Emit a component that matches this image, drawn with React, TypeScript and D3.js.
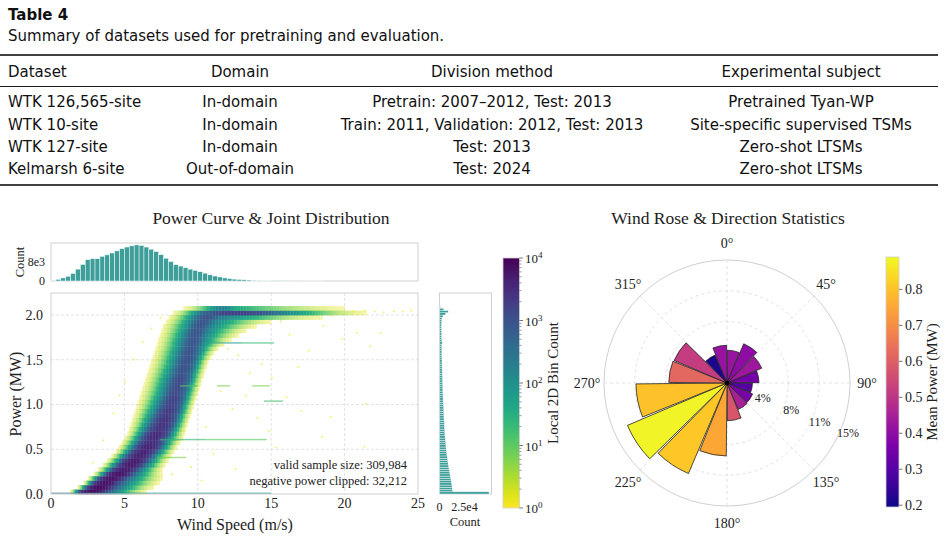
import React from 'react'
import * as d3 from 'd3'

// ---- table ----
const tableHeader = ['Dataset', 'Domain', 'Division method', 'Experimental subject']
const tableRows = [
  ['WTK 126,565-site', 'In-domain', 'Pretrain: 2007–2012, Test: 2013', 'Pretrained Tyan-WP'],
  ['WTK 10-site', 'In-domain', 'Train: 2011, Validation: 2012, Test: 2013', 'Site-specific supervised TSMs'],
  ['WTK 127-site', 'In-domain', 'Test: 2013', 'Zero-shot LTSMs'],
  ['Kelmarsh 6-site', 'Out-of-domain', 'Test: 2024', 'Zero-shot LTSMs'],
]

// ---- wind speed histogram (bins of 1/3 m/s from 0) ----
const speedCounts = [300, 700, 1300, 2000, 3200, 5000, 7000, 9000, 9400, 9400, 10400, 11000, 11800, 12700,
  13600, 14300, 14800, 15200, 15000, 14300, 13400, 12400, 11100, 9600, 8200, 6900, 6300, 5600, 5000, 4500,
  3900, 3300, 2600, 2100, 1700, 1300, 1000, 800, 650, 520, 420, 320, 240, 180, 130, 90, 60, 40, 30, 20, 15,
  10, 8, 6, 4, 3]

// ---- power histogram (bins of 0.025 MW from 0) ----
const powerCounts = [49500,
  13000, 12800, 12500, 12200, 11800, 11400, 11000, 10600, 10200, 9800, 9400, 9000, 8600, 8300, 8000, 7700, 7400, 7100, 6800, 6600,
  6400, 6200, 6000, 5800, 5600, 5450, 5300, 5150, 5000, 4900, 4800, 4700, 4550, 4450, 4350, 4250, 4150, 4050, 3950, 3850,
  3750, 3650, 3600, 3500, 3400, 3350, 3250, 3200, 3100, 3050, 3000, 2900, 2850, 2800, 2700, 2650, 2600, 2550, 2500, 2450,
  2400, 2350, 2300, 2300, 2250, 2200, 2700, 2200, 2150, 2100, 2100, 2050, 2000, 2000, 2000, 2050, 2200, 2500, 3500, 6000, 8700, 4200, 900]

// ---- power curve band, one row per 0.05 MW ----
const bandPower = [0.025, 0.075, 0.125, 0.175, 0.225, 0.275, 0.325, 0.375, 0.425, 0.475, 0.525, 0.575, 0.625, 0.675,
  0.725, 0.775, 0.825, 0.875, 0.925, 0.975, 1.025, 1.075, 1.125, 1.175, 1.225, 1.275, 1.325, 1.375, 1.425, 1.475,
  1.525, 1.575, 1.625, 1.675, 1.725, 1.775, 1.825, 1.875, 1.925, 1.975, 2.025, 2.075]
const bandOuterLeft = [1.3, 1.8, 2.2, 2.5, 2.9, 3.2, 3.5, 3.8, 4.1, 4.4, 4.6, 4.8, 5.0, 5.2,
  5.3, 5.4, 5.5, 5.6, 5.7, 5.8, 5.9, 6.0, 6.1, 6.2, 6.3, 6.4, 6.5, 6.6, 6.7, 6.8,
  6.9, 7.0, 7.1, 7.2, 7.3, 7.4, 7.5, 7.6, 7.8, 8.0, 8.3, 9.0]
const bandCoreLeft = [2.0, 2.5, 2.9, 3.3, 3.8, 4.2, 4.6, 4.9, 5.2, 5.5, 5.8, 6.0, 6.2, 6.4,
  6.6, 6.8, 6.95, 7.1, 7.25, 7.4, 7.55, 7.7, 7.8, 7.9, 8.0, 8.1, 8.2, 8.3, 8.45, 8.55,
  8.65, 8.75, 8.85, 8.95, 9.05, 9.15, 9.3, 9.45, 9.6, 9.8, 10.3, 10.8]
const bandCoreRight = [3.7, 4.1, 4.5, 4.9, 5.4, 5.8, 6.2, 6.5, 6.8, 7.1, 7.4, 7.6, 7.8, 8.0,
  8.2, 8.35, 8.5, 8.6, 8.75, 8.85, 8.95, 9.05, 9.15, 9.25, 9.35, 9.45, 9.55, 9.65, 9.75, 9.85,
  9.95, 10.05, 10.15, 10.25, 10.35, 10.45, 10.6, 10.8, 11.0, 11.4, 15.0, 12.5]
const bandOuterRight = [6.5, 7.0, 7.4, 7.6, 7.6, 7.6, 7.8, 8.0, 8.2, 8.4, 8.6, 8.8, 9.0, 9.1,
  9.2, 9.3, 9.4, 9.5, 9.6, 9.7, 9.8, 9.9, 10.0, 10.1, 10.2, 10.3, 10.4, 10.5, 10.6, 10.7,
  10.9, 11.1, 11.4, 11.8, 12.3, 12.8, 13.3, 14.0, 15.0, 18.5, 21.5, 20.0]
const bandPeak = [3.9, 3.9, 3.8, 3.8, 3.8, 3.7, 3.7, 3.7, 3.6, 3.6, 3.6, 3.5, 3.5, 3.5,
  3.4, 3.4, 3.4, 3.3, 3.3, 3.2, 3.2, 3.2, 3.1, 3.1, 3.1, 3.1, 3.0, 3.0, 3.0, 3.0,
  3.0, 3.0, 2.95, 2.95, 2.95, 2.95, 2.95, 2.95, 2.95, 3.0, 3.25, 2.2]

// ---- curtailment streaks ----
const streakPower = [1.68, 1.68, 1.2, 1.2, 1.2, 1.03, 0.6, 0.6, 0.4, 0.0, 0.0]
const streakStart = [10.4, 13.0, 8.8, 11.3, 13.7, 14.5, 7.4, 10.5, 7.2, 0.0, 2.5]
const streakEnd = [13.0, 15.2, 10.0, 12.2, 14.9, 15.8, 10.5, 14.7, 9.2, 2.5, 15.0]
const streakLevel = [1.8, 1.3, 1.0, 0.8, 0.8, 1.2, 1.3, 1.0, 0.8, 2.6, 1.9]

// ---- isolated samples ----
const outlierSpeed = [12.0, 12.7, 14.3, 15.6, 16.2, 17.5, 18.5, 19.8, 20.8, 22.4, 21.7, 13.5, 15.0, 16.8, 11.5,
  12.3, 14.0, 17.0, 19.0, 18.4, 21.3, 21.4, 15.3, 10.5, 11.0, 9.5, 10.2, 12.5, 8.2, 9.0, 13.2, 16.0, 14.8,
  3.5, 4.2, 5.0, 5.6, 6.2, 6.8, 7.4, 2.8, 4.6,
  20.5, 21.3, 22.0, 22.6, 23.3, 23.9, 24.5, 19.6, 19.0]
const outlierPower = [1.62, 1.55, 1.45, 1.93, 1.78, 1.6, 1.88, 1.73, 1.8, 1.8, 1.65, 1.35, 1.3, 1.42, 1.15,
  0.95, 0.85, 0.93, 0.86, 0.64, 0.53, 1.01, 0.52, 0.75, 0.45, 0.3, 0.15, 0.28, 0.22, 0.7, 1.1, 1.08, 0.7,
  0.6, 0.9, 1.25, 1.5, 1.7, 1.85, 1.97, 0.35, 1.1,
  2.04, 2.05, 2.04, 2.03, 2.04, 2.04, 2.05, 2.02, 1.99]

// ---- wind rose: 16 sectors of 22.5 deg starting at north, clockwise ----
const dirFreq = [4.0, 5.2, 4.6, 3.9, 3.1, 3.4, 3.5, 4.6, 8.9, 12.0, 13.2, 11.1, 7.1, 7.0, 3.7, 4.6]
const dirMeanPower = [0.42, 0.40, 0.43, 0.35, 0.30, 0.36, 0.45, 0.58, 0.75, 0.81, 0.88, 0.80, 0.62, 0.52, 0.21, 0.42]
const angleLabels = ['0°', '45°', '90°', '135°', '180°', '225°', '270°', '315°']

const serif = '"Liberation Serif", "Times New Roman", serif'
const sans = '"DejaVu Sans", sans-serif'
const barTeal = '#3d9e9a'
const spine = '#cfcfcf'
const gridC = '#e2e2e2'

function bandLevel(v: number, oL: number, cL: number, cR: number, oR: number, peak: number) {
  const edge = peak - 0.6
  if (v < cL) {
    const t = Math.max(0, (v - oL) / (cL - oL))
    return 0.15 + (edge - 0.15) * Math.pow(t, 1.3)
  }
  if (v > cR) {
    const t = Math.max(0, (oR - v) / (oR - cR))
    return 0.15 + (edge - 0.15) * Math.pow(t, 1.3)
  }
  const mid = (cL + cR) / 2
  const u = (v - mid) / ((cR - cL) / 2)
  return peak - 0.6 * u * u
}

// sparse bins look faint in the reference
const cellOpacity = (L: number) => (L < 1.4 ? 0.22 + 0.78 * (L / 1.4) : 1)

export default function App() {
  const x = d3.scaleLinear().domain([0, 25]).range([51, 418])
  const y = d3.scaleLinear().domain([0, 2.246]).range([494, 293])
  const yTop = d3.scaleLinear().domain([0, 16000]).range([281, 243])
  const xRight = d3.scaleLinear().domain([0, 52000]).range([439.5, 491.5])
  const cbLog = d3.scaleLog().domain([1, 1e4]).range([508, 258])
  const levelColor = (L: number) => d3.interpolateViridis(1 - Math.max(0, Math.min(4, L)) / 4)

  const pMin = 0.195, pMax = 0.89
  const plasmaT = d3.scaleLinear().domain([pMin, pMax]).range([0, 1]).clamp(true)
  const cbPlasma = d3.scaleLinear().domain([pMin, pMax]).range([507, 257])

  // 2D histogram cells of the band
  const step = 0.1
  const cells: { x0: number; p: number; L: number }[] = []
  bandPower.forEach((p, i) => {
    const oL = bandOuterLeft[i], oR = bandOuterRight[i]
    const n = Math.round((oR - oL) / step)
    for (let j = 0; j < n; j++) {
      const x0 = oL + j * step
      const L = bandLevel(x0 + step / 2, oL, bandCoreLeft[i], bandCoreRight[i], oR, bandPeak[i])
      cells.push({ x0, p, L })
    }
  })
  const cw = x(step) - x(0) + 0.35
  const ch = y(0) - y(0.05) + 0.35

  // wind rose
  const cx = 727, cy = 383, R = 123
  const r = d3.scaleLinear().domain([0, 15]).range([0, R])
  const rTicks = [3.75, 7.5, 11.25, 15]
  const sector = (2 * Math.PI) / dirFreq.length
  const pad = sector * 0.025
  const arc = d3.arc<any>()

  const rad = (deg: number) => (deg * Math.PI) / 180

  return (
    <svg width={947} height={539} style={{ position: 'absolute', left: 0, top: 0, background: '#fff' }}>
      <defs>
        <linearGradient id="viridisBar" x1="0" y1="0" x2="0" y2="1">
          {d3.range(0, 1.0001, 0.05).map(t => (
            <stop key={t} offset={t} stopColor={d3.interpolateViridis(t)} />
          ))}
        </linearGradient>
        <linearGradient id="plasmaBar" x1="0" y1="1" x2="0" y2="0">
          {d3.range(0, 1.0001, 0.05).map(t => (
            <stop key={t} offset={t} stopColor={d3.interpolatePlasma(t)} />
          ))}
        </linearGradient>
      </defs>

      {/* ---------- table ---------- */}
      <g fontFamily={sans} fontSize={15} fill="#111">
        <text x={8} y={20} fontWeight="bold">Table 4</text>
        <text x={8} y={41}>Summary of datasets used for pretraining and evaluation.</text>
        <line x1={0} x2={938} y1={55} y2={55} stroke="#000" strokeWidth={1.6} />
        <line x1={0} x2={938} y1={86.5} y2={86.5} stroke="#000" strokeWidth={0.9} />
        <line x1={0} x2={938} y1={185} y2={185} stroke="#000" strokeWidth={1.6} />
        {[tableHeader, ...tableRows].map((row, ri) => {
          const by = ri === 0 ? 77 : [107, 130, 152, 174][ri - 1]
          return (
            <g key={ri}>
              <text x={8} y={by}>{row[0]}</text>
              <text x={240} y={by} textAnchor="middle">{row[1]}</text>
              <text x={492} y={by} textAnchor="middle">{row[2]}</text>
              <text x={801} y={by} textAnchor="middle">{row[3]}</text>
            </g>
          )
        })}
      </g>

      {/* ---------- left panel ---------- */}
      <g fontFamily={serif} fill="#222">
        <text x={271} y={224} textAnchor="middle" fontSize={17.5}>Power Curve &amp; Joint Distribution</text>

        {/* top marginal histogram */}
        <rect x={51} y={243} width={367} height={38} fill="none" stroke={spine} strokeWidth={1} />
        {speedCounts.map((c, i) => (
          <rect key={i} x={x(i / 3)} width={x(1 / 3) - x(0)} y={yTop(c)} height={yTop(0) - yTop(c)}
            fill={barTeal} stroke="#fff" strokeWidth={0.5} />
        ))}
        <text x={45} y={yTop(8000)} dy="0.35em" textAnchor="end" fontSize={12}>8e3</text>
        <text x={45} y={yTop(0)} dy="0.35em" textAnchor="end" fontSize={12}>0</text>
        <text transform="translate(20,262) rotate(-90)" dy="0.35em" textAnchor="middle" fontSize={12.5}>Count</text>

        {/* main joint plot */}
        <rect x={51} y={293} width={367} height={201} fill="#fff" />
        {[5, 10, 15, 20].map(v => (
          <line key={v} x1={x(v)} x2={x(v)} y1={293} y2={494} stroke={gridC} strokeDasharray="3,2" />
        ))}
        {[0.5, 1.0, 1.5, 2.0].map(v => (
          <line key={v} x1={51} x2={418} y1={y(v)} y2={y(v)} stroke={gridC} strokeDasharray="3,2" />
        ))}
        {cells.map((c, i) => (
          <rect key={i} x={x(c.x0)} y={y(c.p + 0.025)} width={cw} height={ch}
            fill={levelColor(c.L)} fillOpacity={cellOpacity(c.L)} />
        ))}
        {streakPower.map((p, i) => (
          <rect key={i} x={x(streakStart[i])} width={x(streakEnd[i]) - x(streakStart[i])}
            y={y(p + 0.016)} height={y(0) - y(0.016)} fill={levelColor(streakLevel[i])} fillOpacity={0.65} />
        ))}
        {outlierSpeed.map((s, i) => (
          <rect key={i} x={x(s)} y={y(outlierPower[i]) - 0.8} width={1.6} height={1.6}
            fill={levelColor(0.05)} fillOpacity={0.75} />
        ))}
        <rect x={51} y={293} width={367} height={201} fill="none" stroke={spine} strokeWidth={1} />
        {[0, 0.5, 1.0, 1.5, 2.0].map(v => (
          <text key={v} x={43} y={y(v)} dy="0.35em" textAnchor="end" fontSize={14}>{d3.format('.1f')(v)}</text>
        ))}
        {[0, 5, 10, 15, 20, 25].map(v => (
          <text key={v} x={x(v)} y={503} dy="0.35em" textAnchor="middle" fontSize={14}>{v}</text>
        ))}
        <text x={235} y={524} dy="0.35em" textAnchor="middle" fontSize={16}>Wind Speed (m/s)</text>
        <text transform="translate(15,394) rotate(-90)" dy="0.35em" textAnchor="middle" fontSize={16}>Power (MW)</text>
        <text x={407} y={465} dy="0.35em" textAnchor="end" fontSize={12.5}>valid sample size: 309,984</text>
        <text x={407} y={481} dy="0.35em" textAnchor="end" fontSize={12.5}>negative power clipped: 32,212</text>

        {/* right marginal histogram */}
        <rect x={439.5} y={293} width={52} height={201} fill="none" stroke={spine} strokeWidth={1} />
        {powerCounts.map((c, k) => (
          <rect key={k} x={xRight(0)} width={xRight(c) - xRight(0)} y={y((k + 1) * 0.025)}
            height={y(0) - y(0.025)} fill={barTeal} stroke="#fff" strokeWidth={0.4} />
        ))}
        <text x={xRight(0)} y={507} dy="0.35em" textAnchor="middle" fontSize={12}>0</text>
        <text x={xRight(25000)} y={507} dy="0.35em" textAnchor="middle" fontSize={12}>2.5e4</text>
        <text x={465} y={522} dy="0.35em" textAnchor="middle" fontSize={12.5}>Count</text>

        {/* log colour bar */}
        <rect x={503} y={258} width={16.5} height={250} fill="url(#viridisBar)" stroke={spine} strokeWidth={0.8} />
        {d3.range(0, 4).flatMap(k => d3.range(2, 10).map(m => m * Math.pow(10, k))).map(v => (
          <line key={v} x1={519.5} x2={521.5} y1={cbLog(v)} y2={cbLog(v)} stroke="#555" strokeWidth={0.6} />
        ))}
        {[0, 1, 2, 3, 4].map(k => (
          <g key={k}>
            <line x1={519.5} x2={523} y1={cbLog(Math.pow(10, k))} y2={cbLog(Math.pow(10, k))} stroke="#555" strokeWidth={0.8} />
            <text x={525} y={cbLog(Math.pow(10, k))} dy="0.4em" fontSize={13}>
              10<tspan dy="-0.55em" fontSize={9}>{k}</tspan>
            </text>
          </g>
        ))}
        <text transform="translate(553,383) rotate(-90)" dy="0.35em" textAnchor="middle" fontSize={15}>Local 2D Bin Count</text>
      </g>

      {/* ---------- right panel ---------- */}
      <g fontFamily={serif} fill="#222">
        <text x={728} y={224} textAnchor="middle" fontSize={17.5}>Wind Rose &amp; Direction Statistics</text>
        <g transform={`translate(${cx},${cy})`}>
          {rTicks.slice(0, 3).map(v => (
            <circle key={v} r={r(v)} fill="none" stroke={gridC} strokeDasharray="3,3" />
          ))}
          <circle r={R} fill="none" stroke="#d0d0d0" strokeWidth={1} />
          {d3.range(0, 360, 45).map(a => (
            <line key={a} x1={0} y1={0} x2={R * Math.sin(rad(a))} y2={-R * Math.cos(rad(a))}
              stroke={gridC} strokeDasharray="3,3" />
          ))}
          {dirFreq.map((f, i) => (
            <path key={i}
              d={arc({ innerRadius: 0, outerRadius: r(f), startAngle: i * sector + pad, endAngle: (i + 1) * sector - pad }) as string}
              fill={d3.interpolatePlasma(plasmaT(dirMeanPower[i]))} stroke="#222" strokeWidth={0.8} />
          ))}
          <circle r={2.2} fill="#000" />
          {angleLabels.map((lab, i) => {
            const a = rad(i * 45)
            return (
              <text key={lab} x={140 * Math.sin(a)} y={-140 * Math.cos(a)} dy="0.35em" textAnchor="middle" fontSize={14}>{lab}</text>
            )
          })}
          {rTicks.map(v => {
            const a = rad(112.5)
            const rr = r(v) + 8
            return (
              <text key={v} x={rr * Math.sin(a)} y={-rr * Math.cos(a)} dy="0.35em" textAnchor="middle" fontSize={12}>
                {d3.format('.0f')(v)}%
              </text>
            )
          })}
        </g>

        {/* plasma colour bar */}
        <rect x={886} y={257} width={13} height={250} fill="url(#plasmaBar)" stroke={spine} strokeWidth={0.8} />
        {[0.2, 0.3, 0.4, 0.5, 0.6, 0.7, 0.8].map(v => (
          <g key={v}>
            <line x1={899} x2={902.5} y1={cbPlasma(v)} y2={cbPlasma(v)} stroke="#555" strokeWidth={0.8} />
            <text x={905} y={cbPlasma(v)} dy="0.35em" fontSize={14}>{d3.format('.1f')(v)}</text>
          </g>
        ))}
        <text transform="translate(932,382) rotate(-90)" dy="0.35em" textAnchor="middle" fontSize={15}>Mean Power (MW)</text>
      </g>
    </svg>
  )
}
